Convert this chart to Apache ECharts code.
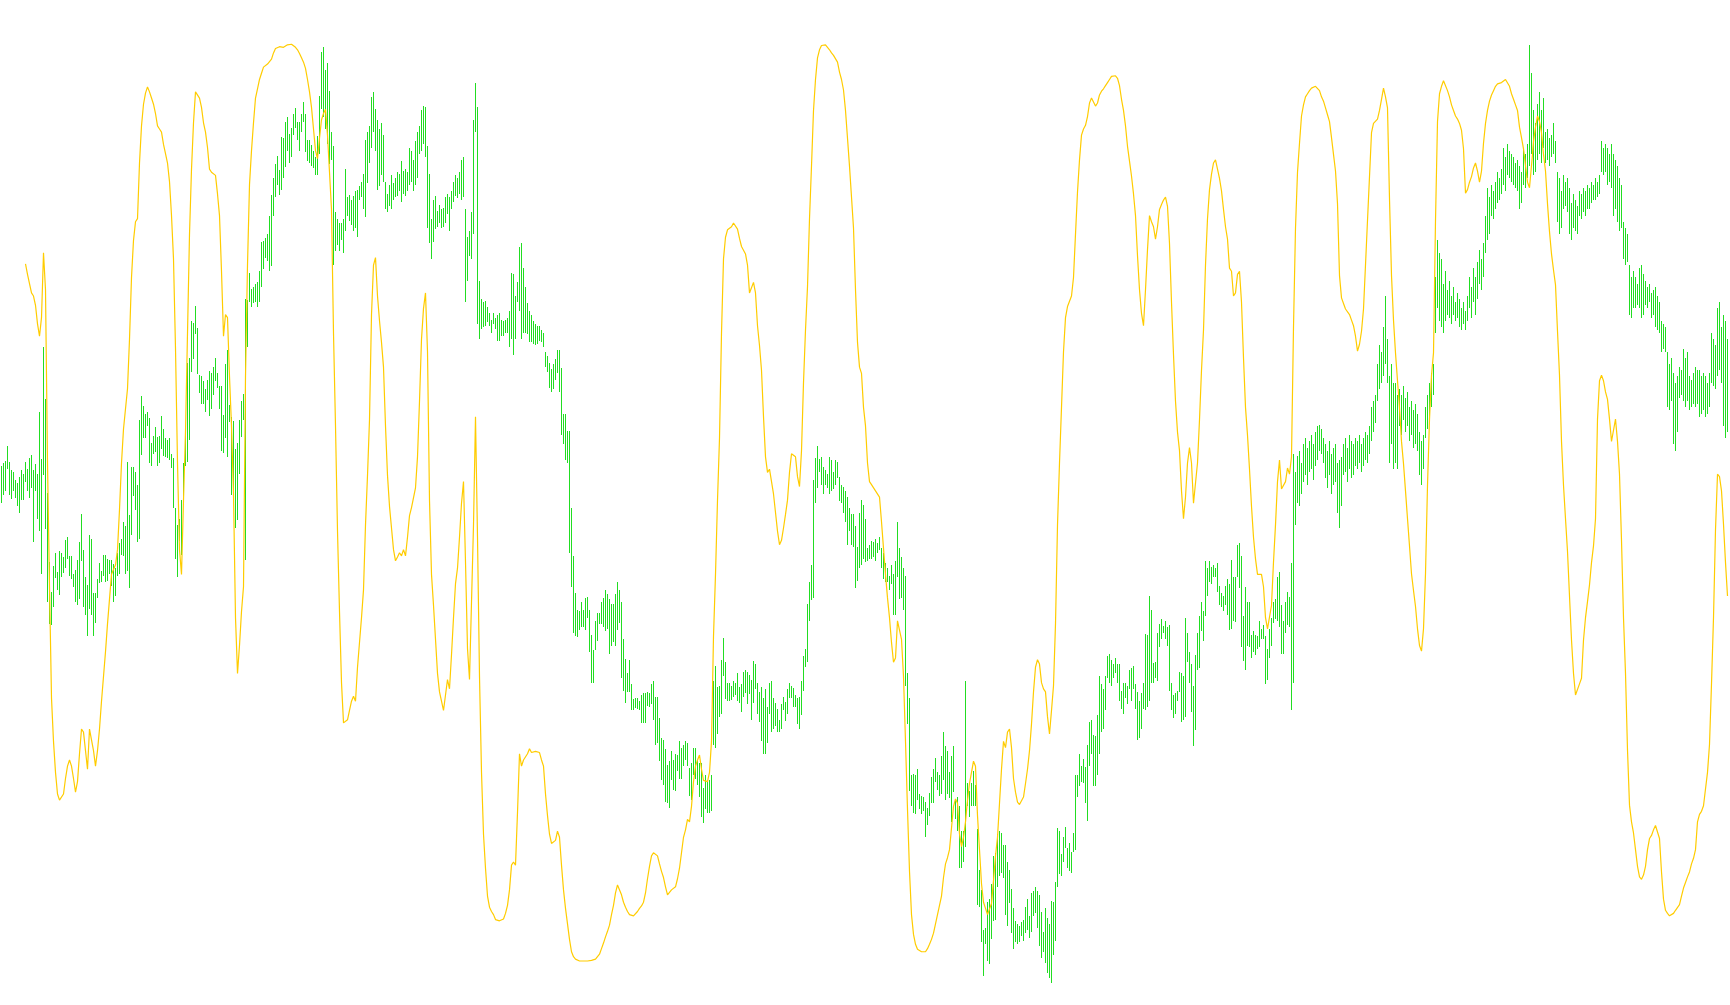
<!DOCTYPE html>
<html><head><meta charset="utf-8">
<script src="https://cdn.jsdelivr.net/npm/echarts@6/dist/echarts.min.js"></script>
<style>html,body{margin:0;padding:0;background:#ffffff;overflow:hidden}#c{width:1730px;height:1005px}</style>
</head><body><div id="c"></div>
<script>
// bar highs (price units)
const barHigh = [
895,900,903,928,902,888,886,873,867,878,
888,882,902,890,908,913,888,898,882,982,
906,1088,1004,852,740,692,734,755,724,757,
755,748,776,780,750,750,720,727,743,772,
818,760,716,703,784,777,690,690,712,738,
725,751,751,745,743,743,737,730,755,770,
778,805,798,902,816,894,894,886,864,970,
1008,992,980,982,972,932,944,958,942,944,
976,955,940,938,940,915,908,828,800,810,
840,900,952,1062,1070,1130,1126,1154,1118,1042,
1040,1033,1020,1034,1048,1045,1055,1070,1045,1025,
1025,978,1060,1082,994,975,968,923,932,970,
1000,1012,1165,1164,1207,1182,1185,1190,1192,1210,
1257,1259,1264,1270,1300,1334,1360,1383,1396,1374,
1427,1425,1452,1460,1432,1442,1465,1474,1452,1452,
1465,1484,1464,1422,1422,1414,1405,1395,1428,1493,
1564,1572,1535,1547,1501,1435,1412,1305,1295,1288,
1288,1295,1375,1330,1334,1325,1332,1340,1342,1348,
1355,1368,1422,1435,1445,1492,1500,1473,1455,1440,
1450,1430,1355,1335,1350,1365,1352,1360,1370,1368,
1388,1372,1376,1370,1410,1405,1390,1420,1435,1445,
1470,1477,1475,1412,1368,1294,1325,1332,1308,1317,
1310,1312,1330,1335,1330,1340,1355,1365,1360,1370,
1390,1395,1310,1265,1275,1305,1455,1515,1475,1195,
1165,1160,1162,1152,1142,1132,1142,1135,1140,1142,
1132,1130,1132,1135,1145,1207,1205,1170,1192,1250,
1255,1215,1185,1158,1145,1140,1130,1125,1122,1122,
1115,1110,1080,1073,1062,1052,1060,1068,1082,1083,
1054,980,980,952,952,827,750,690,662,660,
675,662,682,684,662,622,598,645,658,658,
675,682,694,688,680,672,672,688,708,695,
675,615,583,560,582,542,518,520,520,515,
525,528,528,530,528,542,548,522,522,488,
455,452,438,412,418,435,420,430,428,450,
440,445,450,448,407,415,440,440,420,415,
415,375,395,385,388,395,548,572,538,540,
582,617,578,545,545,540,548,545,560,538,
542,562,565,562,557,550,580,575,545,530,
538,520,535,505,545,547,520,512,502,485,
510,522,513,535,545,540,537,525,520,522,
548,588,600,672,707,735,873,908,928,907,
910,893,888,883,910,905,885,905,902,878,
865,862,855,845,828,818,818,798,765,820,
840,832,810,762,768,774,772,778,770,780,
762,755,738,730,718,735,720,742,805,762,
748,730,718,560,520,395,397,395,405,365,
362,360,352,342,367,392,405,423,400,396,
427,465,442,435,400,427,443,355,360,345,
305,305,548,382,370,382,402,380,308,242,
210,145,148,190,195,220,265,270,300,305,
302,282,282,255,242,212,180,160,155,152,
158,162,182,195,168,205,208,215,208,202,
175,142,180,165,155,192,190,222,310,305,
268,295,312,278,285,272,302,395,395,430,
410,422,408,445,482,485,460,458,492,555,
542,535,555,588,592,582,575,585,575,575,
532,545,545,540,565,568,572,542,530,515,
528,545,623,622,685,662,577,578,625,640,
648,637,645,635,638,545,525,528,532,562,
560,555,650,625,595,575,540,590,625,652,
675,660,742,730,742,732,735,730,738,702,
690,685,702,712,705,743,715,715,768,770,
750,652,700,675,675,622,628,622,620,645,
632,638,620,600,632,650,675,680,715,724,
670,645,675,692,684,738,915,885,912,920,
900,930,940,925,935,945,930,950,960,962,
955,940,930,920,935,915,925,930,900,905,
910,930,940,925,945,935,930,940,935,945,
930,940,950,945,960,990,1000,1010,1060,1090,
1080,1120,1170,1100,1040,1060,1030,1030,1010,1020,
1010,1025,1005,1015,990,1000,985,995,980,950,
935,945,990,1010,1030,1045,1060,1200,1260,1240,
1230,1190,1210,1180,1195,1170,1185,1160,1175,1165,
1150,1160,1145,1170,1200,1185,1215,1200,1225,1245,
1230,1255,1300,1345,1330,1350,1340,1355,1370,1360,
1375,1410,1395,1415,1405,1400,1395,1385,1390,1380,
1370,1410,1400,1415,1575,1530,1470,1450,1480,1500,
1470,1490,1435,1440,1425,1430,1450,1420,1370,1360,
1340,1365,1355,1360,1345,1320,1335,1325,1315,1340,
1335,1345,1340,1350,1345,1355,1350,1360,1355,1365,
1420,1410,1415,1410,1400,1415,1400,1390,1380,1360,
1350,1290,1280,1270,1220,1200,1210,1200,1190,1215,
1220,1205,1195,1185,1190,1175,1180,1185,1170,1160,
1130,1125,1120,1080,1060,1070,1045,1030,1040,1055,
1050,1085,1070,1080,1040,1035,1045,1055,1050,1050,
1040,1045,1040,1030,1045,1110,1100,1090,1150,1160,
1120,1140,1130,1100
];
// bar lows (price units)
const barLow = [
835,848,855,890,848,842,855,843,830,820,
840,840,870,855,844,860,772,854,810,790,
720,880,794,675,640,638,668,714,695,687,
715,722,730,745,718,712,700,675,670,680,
742,668,654,620,664,654,620,642,682,706,
708,717,707,710,720,702,675,685,718,720,
752,750,720,725,698,784,847,824,772,777,
913,940,940,960,900,895,914,918,895,900,
922,912,910,908,905,892,828,745,715,774,
752,838,895,902,938,1047,1068,1108,1044,1014,
995,995,982,1002,976,988,1010,1032,1022,988,
920,916,940,910,966,848,848,795,808,882,
942,970,743,1088,1160,1152,1158,1160,1152,1160,
1185,1214,1232,1226,1210,1218,1300,1330,1350,1334,
1342,1360,1378,1405,1385,1395,1430,1442,1422,1405,
1435,1452,1402,1388,1385,1380,1377,1365,1365,1400,
1472,1460,1440,1415,1384,1390,1220,1242,1252,1242,
1260,1240,1275,1300,1292,1284,1275,1280,1265,1325,
1330,1310,1298,1352,1385,1410,1435,1405,1342,1348,
1365,1355,1310,1305,1315,1310,1325,1330,1332,1340,
1322,1335,1332,1340,1350,1355,1340,1350,1360,1400,
1405,1415,1395,1280,1255,1230,1257,1278,1282,1288,
1280,1282,1288,1302,1275,1310,1322,1332,1328,1335,
1325,1330,1160,1195,1235,1230,1270,1435,1125,1100,
1117,1120,1122,1128,1122,1110,1125,1117,1098,1098,
1105,1105,1110,1110,1088,1100,1075,1100,1160,1145,
1100,1110,1110,1108,1095,1095,1092,1090,1092,1098,
1095,1088,1055,1047,1022,1015,1020,1035,1045,1015,
945,930,905,900,755,700,625,620,618,630,
635,635,630,650,595,545,545,597,612,640,
640,635,628,632,592,605,610,605,630,642,
552,532,512,530,530,500,500,504,502,500,
480,480,480,508,505,510,485,445,448,418,
388,380,352,350,342,388,372,370,402,390,
390,410,420,410,362,355,395,390,380,360,
328,318,340,335,335,338,445,440,462,490,
494,555,518,515,515,517,522,525,515,512,
498,522,528,510,527,485,512,535,495,482,
450,430,430,448,495,465,470,475,465,465,
470,500,483,495,520,520,505,505,478,470,
492,532,570,578,645,678,682,835,860,885,
865,850,865,860,850,855,858,865,875,838,
835,820,805,768,790,768,765,698,710,730,
735,745,740,742,745,745,748,742,755,760,
730,712,708,708,695,705,655,655,715,680,
682,662,540,478,370,345,335,332,355,340,
332,338,295,315,330,350,350,385,372,362,
365,387,355,365,358,320,368,325,305,245,
245,255,280,345,328,345,345,345,185,182,
125,70,122,95,90,130,160,162,215,232,
238,230,170,152,188,140,115,125,122,125,
135,128,140,145,132,142,168,172,148,120,
100,110,92,75,68,60,105,128,215,235,
232,255,278,245,240,238,272,275,360,378,
385,382,350,322,410,430,378,378,395,430,
465,470,500,552,545,540,552,560,545,515,
502,495,520,510,535,515,535,502,452,455,
470,502,500,505,515,545,545,552,548,602,
615,625,615,605,532,500,488,495,515,530,
482,485,490,578,545,498,443,468,565,568,
628,612,652,685,708,705,715,715,692,670,
668,660,670,655,630,632,645,643,715,698,
602,580,565,605,602,585,595,590,600,602,
615,615,542,550,585,605,642,648,645,635,
592,592,625,638,635,500,545,800,835,830,
850,870,880,865,885,890,872,895,905,920,
915,900,875,860,880,850,865,870,820,795,
830,880,885,870,890,875,880,895,890,900,
885,895,905,900,915,935,950,965,1000,1020,
1030,1040,1060,1030,900,930,890,900,890,960,
945,970,950,960,935,945,925,930,920,880,
865,890,940,955,975,990,1010,1110,1150,1130,
1120,1110,1130,1140,1135,1125,1140,1130,1135,1120,
1115,1125,1115,1130,1150,1135,1160,1140,1165,1190,
1180,1200,1240,1260,1270,1300,1295,1310,1320,1325,
1335,1350,1340,1365,1360,1355,1350,1345,1340,1310,
1320,1350,1345,1360,1380,1400,1365,1370,1390,1400,
1385,1410,1385,1390,1380,1395,1400,1385,1290,1270,
1280,1310,1315,1305,1270,1260,1280,1275,1270,1300,
1295,1305,1300,1310,1310,1320,1325,1325,1330,1335,
1370,1365,1370,1350,1355,1345,1300,1310,1290,1275,
1280,1230,1220,1225,1140,1135,1150,1150,1155,1150,
1135,1140,1155,1150,1160,1135,1140,1120,1115,1110,
1080,1085,1080,990,985,1000,930,920,950,1005,
1010,1000,990,1000,985,990,995,990,995,975,
980,985,975,980,990,1030,1025,1020,1040,1050,
1030,960,940,950
];
// oscillator line (same scale)
const oscLine = [
null,null,null,null,null,null,null,null,null,null,
null,null,1222,1205,1190,1175,1170,1155,1125,1105,
1135,1240,1180,900,700,520,450,400,365,355,
355,365,390,410,420,410,390,368,385,430,
470,465,435,405,470,470,435,410,435,470,
515,555,595,640,680,720,728,735,760,825,
900,955,952,1020,1100,1200,1260,1290,1295,1385,
1445,1480,1498,1508,1500,1490,1480,1465,1445,1440,
1435,1415,1400,1385,1355,1300,1230,1085,900,760,
720,840,950,1110,1270,1375,1450,1500,1498,1490,
1475,1450,1435,1410,1375,1370,1372,1365,1335,1300,
1210,1105,1140,1135,1040,960,850,650,560,605,
660,700,1040,1220,1350,1405,1450,1490,1505,1520,
1530,1540,1543,1545,1543,1553,1563,1570,1571,1573,
1573,1572,1574,1576,1578,1577,1575,1572,1568,1562,
1555,1548,1538,1520,1500,1475,1440,1405,1392,1425,
1455,1465,1472,1430,1370,1310,1110,960,790,660,
545,480,482,485,500,515,523,515,570,610,
650,695,800,880,970,1140,1220,1232,1170,1130,
1095,1055,960,880,830,795,760,742,748,755,
750,760,750,780,815,828,825,860,910,1000,
1100,1150,1175,1080,840,720,670,615,560,530,
515,500,525,550,535,590,650,705,730,780,
835,870,740,600,550,548,800,975,780,555,
400,300,245,200,182,175,170,162,160,160,
160,163,172,185,210,250,255,250,335,430,
410,420,423,430,438,432,434,434,435,432,
420,410,365,330,300,285,285,290,305,295,
250,210,180,155,130,110,102,98,97,95,
95,95,95,95,95,96,97,98,100,106,
115,124,134,143,153,170,185,205,218,218,
202,190,182,175,170,168,168,170,175,180,
184,190,205,228,248,265,270,270,265,252,
240,230,215,202,203,210,210,215,228,245,
270,295,307,324,320,345,385,410,420,428,
405,387,385,385,400,450,620,720,840,940,
1110,1230,1265,1277,1278,1282,1288,1290,1278,1263,
1250,1252,1238,1220,1175,1175,1192,1175,1122,1090,
1050,975,910,885,890,890,850,820,790,768,
775,795,817,840,885,915,912,910,878,862,
920,1030,1115,1185,1295,1380,1470,1520,1555,1568,
1575,1577,1576,1573,1568,1563,1559,1556,1548,1532,
1520,1503,1470,1425,1380,1330,1280,1180,1095,1055,
1045,990,960,900,870,865,865,855,852,845,
805,762,720,682,650,610,578,585,645,644,
615,555,450,340,240,170,138,122,114,112,
110,110,110,115,122,130,140,155,170,185,
200,230,252,262,275,310,345,357,350,300,
280,295,320,355,382,400,418,410,330,275,
220,190,180,170,168,188,225,265,295,350,
405,450,440,465,470,440,390,368,352,348,
354,360,382,405,435,478,530,570,582,575,
545,535,530,490,462,500,540,640,800,900,
990,1080,1135,1153,1153,1170,1200,1270,1338,1390,
1430,1440,1446,1460,1482,1490,1487,1477,1482,1495,
1501,1505,1510,1515,1520,1525,1528,1526,1522,1510,
1488,1470,1445,1412,1388,1364,1335,1300,1235,1180,
1142,1122,1180,1245,1300,1290,1282,1262,1282,1310,
1318,1325,1330,1315,1255,1160,1075,1000,950,920,
855,810,845,900,925,900,835,835,900,970,
1050,1115,1220,1295,1342,1367,1385,1390,1375,1360,
1340,1310,1282,1262,1215,1210,1170,1175,1205,1210,
1160,1070,990,945,890,830,780,745,720,718,
720,700,650,632,630,670,740,800,870,905,
858,858,870,892,882,910,1120,1280,1370,1417,
1461,1479,1492,1497,1502,1506,1508,1509,1508,1502,
1492,1485,1474,1463,1452,1426,1399,1372,1319,1203,
1167,1158,1149,1146,1140,1131,1122,1105,1081,1092,
1113,1149,1220,1292,1363,1434,1449,1452,1456,1470,
1488,1506,1492,1474,1327,1203,1131,1078,1033,989,
935,899,855,810,766,721,694,668,632,605,
596,632,721,864,971,1042,1078,1292,1452,1497,
1509,1518,1515,1502,1492,1479,1470,1461,1456,1449,
1438,1408,1336,1342,1354,1363,1377,1385,1372,1354,
1372,1417,1449,1470,1485,1495,1502,1509,1513,1515,
1515,1517,1520,1517,1509,1497,1488,1479,1470,1443,
1426,1408,1381,1354,1345,1381,1420,1443,1461,1452,
1434,1399,1372,1319,1274,1238,1212,1188,1113,1042,
935,864,810,757,685,614,560,525,528,543,
552,614,650,676,703,739,766,810,971,1033,
1042,1033,1015,1003,971,935,953,971,935,882,
775,650,560,436,347,320,302,275,248,231,
227,234,248,275,293,298,307,314,311,293,
239,195,177,172,168,165,172,177,174,186,
200,213,222,231,239,252,261,275,320,332,
337,346,373,400,445,543,650,792,882,878,
855,801,739,685
];
const barIndex = barHigh.map(function (_, i) { return i; });

const chart = echarts.init(document.getElementById('c'), null, { renderer: 'canvas' });
const barData = barHigh.map(function (h, i) { return [i, h, barLow[i]]; });

chart.setOption({
  animation: false,
  backgroundColor: '#ffffff',
  grid: { left: 0.5, top: 0, width: 1728, height: 1005, containLabel: false },
  xAxis: { type: 'category', data: barIndex, boundaryGap: true, show: false },
  yAxis: { type: 'value', min: 23.9, max: 1648.5, show: false, splitLine: { show: false } },
  series: [
    {
      type: 'custom',
      z: 2,
      data: barData,
      encode: { x: 0, y: [1, 2] },
      renderItem: function (params, api) {
        var hi = api.coord([api.value(0), api.value(1)]);
        var lo = api.coord([api.value(0), api.value(2)]);
        var x = Math.round(hi[0] - 0.5) + 0.5;
        return {
          type: 'line',
          shape: { x1: x, y1: Math.round(hi[1]), x2: x, y2: Math.round(lo[1]) },
          style: { stroke: '#22DD22', lineWidth: 1 }
        };
      }
    },
    {
      type: 'line',
      z: 3,
      data: oscLine,
      showSymbol: false,
      symbol: 'none',
      sampling: null,
      lineStyle: { color: '#FFCC00', width: 1.2 },
      itemStyle: { color: '#FFCC00' }
    }
  ]
});
</script>
</body></html>
